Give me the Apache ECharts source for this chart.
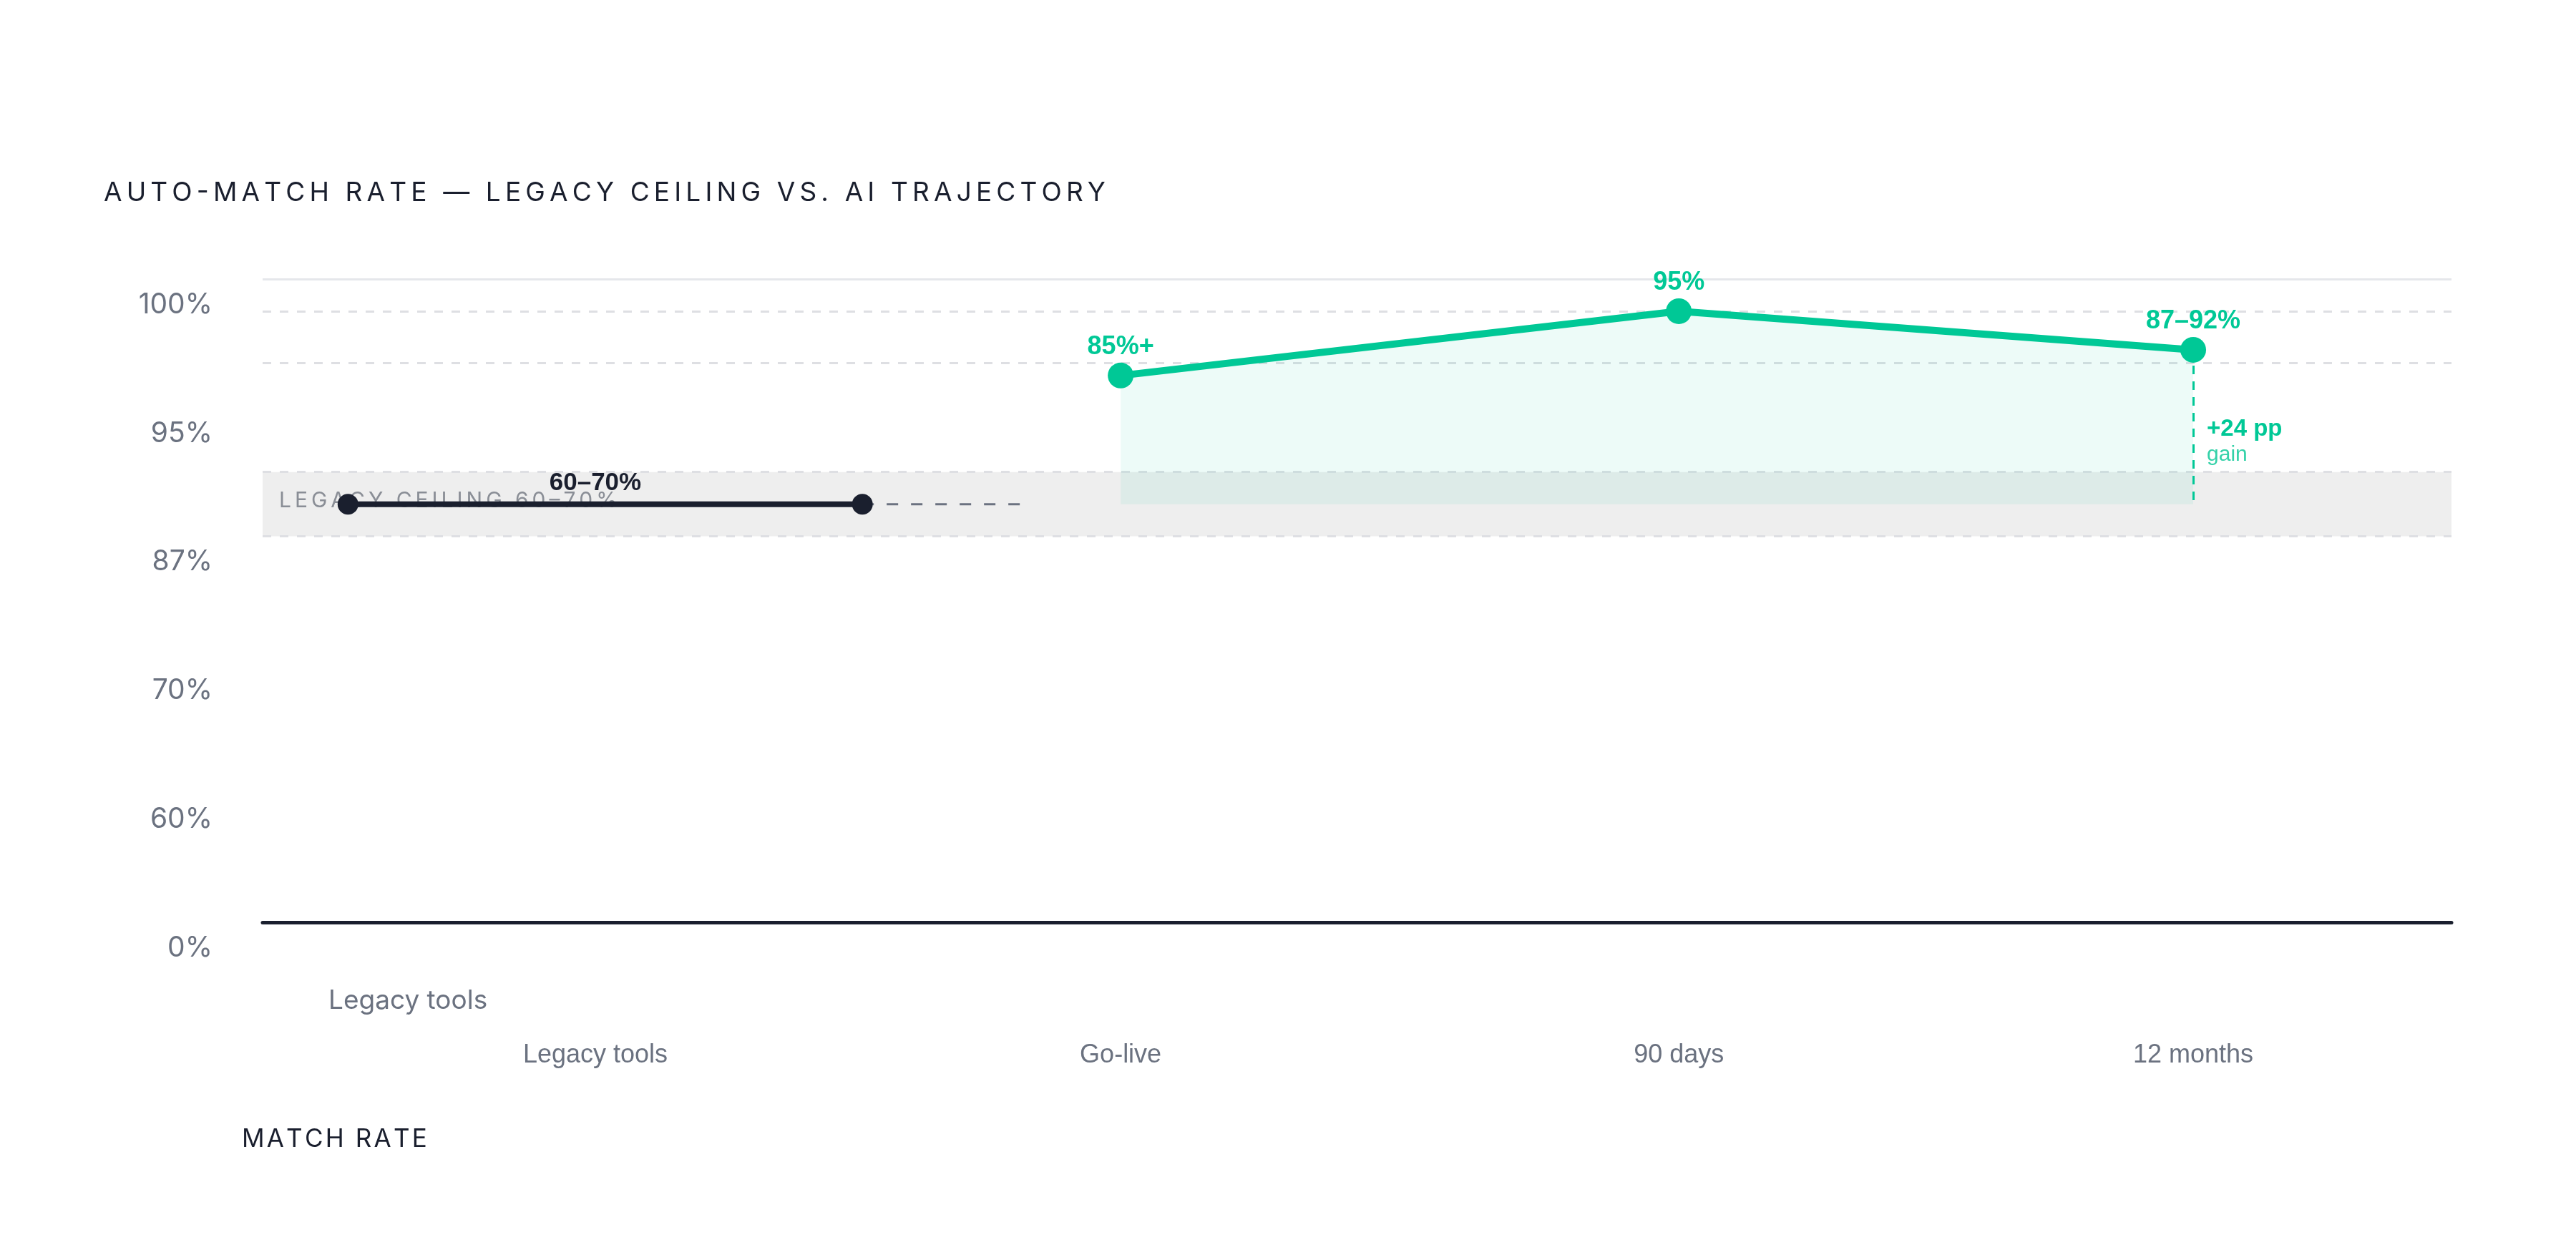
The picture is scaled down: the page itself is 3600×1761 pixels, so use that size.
<!DOCTYPE html>
<html>
<head>
<meta charset="utf-8">
<script src="https://cdn.jsdelivr.net/npm/echarts@6/dist/echarts.min.js"></script>
<style>
  html, body { margin: 0; padding: 0; background: #ffffff; }
  #chart { width: 3600px; height: 1761px; }
</style>
</head>
<body>
<div id="chart"></div>
<script>
// auto-match rate chart
var chart = echarts.init(document.getElementById('chart'));

// data
var xCats = ['Legacy tools', 'Go-live', '90 days', '12 months'];
var xCatPos = [15.2, 39.2, 64.7, 88.2];
var yTickLabels = ['0%', '60%', '70%', '87%', '95%', '100%'];
var refLines = [60, 70, 87, 95];
var ceiling = [60, 70];

var legacyX = [3.9, 27.4];
var legacyVal = [65, 65];
var legacyTrailX = [27.4, 34.75];
var legacyLabel = '60–70%';

var aiX = [39.2, 64.7, 88.2];
var aiVal = [85, 95, 89];
var aiLabels = ['85%+', '95%', '87–92%'];
var gainText = ['+24 pp', 'gain'];

var GREEN = '#00c896';
var DARK = '#1a1f2e';
var GREY = '#6b7280';

// no letter-spacing in canvas text, so pad with narrow spaces
function spaced(s, gap) {
  return s.split('').join(gap || '\u2006');
}

function pairs(xs, ys) {
  return xs.map(function (x, i) { return [x, ys[i]]; });
}

var option = {
  backgroundColor: '#ffffff',
  animation: false,
  grid: { left: 367, right: 174, top: 390, bottom: 472 },
  xAxis: {
    type: 'value',
    min: 0,
    max: 100,
    splitLine: { show: false },
    axisTick: { show: false },
    axisLine: { show: true, lineStyle: { color: DARK, width: 5 } },
    axisLabel: {
      customValues: xCatPos,
      margin: 168,
      color: GREY,
      fontFamily: 'Liberation Sans',
      fontSize: 36,
      formatter: function (v) {
        var i = xCatPos.indexOf(v);
        return i >= 0 ? xCats[i] : '';
      }
    }
  },
  yAxis: {
    type: 'value',
    min: 0,
    max: 100,
    interval: 20,
    splitLine: { show: false },
    axisLine: { show: false },
    axisTick: { show: false },
    axisLabel: {
      margin: 70,
      color: GREY,
      fontFamily: 'Inter',
      fontSize: 39,
      verticalAlign: 'top',
      lineHeight: 72,
      formatter: function (v) {
        return yTickLabels[Math.round(v / 20)];
      }
    }
  },
  graphic: [
    {
      type: 'text', left: 145, top: 251,
      style: {
        text: spaced('AUTO-MATCH RATE — LEGACY CEILING VS. AI TRAJECTORY'),
        fill: DARK, font: '400 37px Inter'
      }
    },
    {
      type: 'text', left: 459, top: 1380,
      style: { text: 'Legacy tools', fill: GREY, font: '37px Inter' }
    },
    {
      type: 'text', left: 338, top: 1575,
      style: { text: spaced('MATCH RATE', '\u200A'), fill: DARK, font: '400 35px Inter' }
    }
  ],
  series: [
    {
      // reference lines and legacy band
      name: 'base',
      type: 'line',
      data: [],
      z: 1,
      markArea: {
        silent: true,
        itemStyle: { color: '#eeeeee' },
        label: {
          show: true,
          position: 'insideLeft',
          distance: 23,
          offset: [0, -5],
          color: '#8a8e96',
          fontFamily: 'Inter',
          fontSize: 30,
          formatter: spaced('LEGACY CEILING 60–70%')
        },
        data: [[{ yAxis: ceiling[0] }, { yAxis: ceiling[1] }]]
      },
      markLine: {
        silent: true,
        symbol: 'none',
        label: { show: false },
        lineStyle: { color: '#dedfe3', width: 3, type: [12, 12] },
        data: refLines.map(function (v) { return { yAxis: v }; }).concat([
          { yAxis: 100, lineStyle: { color: '#e5e7eb', width: 3, type: 'solid' } }
        ])
      }
    },
    {
      name: 'legacy trail',
      type: 'line',
      z: 3,
      data: pairs(legacyTrailX, legacyVal),
      symbol: 'none',
      lineStyle: { color: GREY, width: 3, type: [16, 18] }
    },
    {
      name: 'Legacy',
      type: 'line',
      z: 4,
      data: pairs(legacyX, legacyVal),
      symbol: 'circle',
      symbolSize: 29,
      itemStyle: { color: DARK },
      lineStyle: { color: DARK, width: 8 },
      markPoint: {
        symbol: 'circle',
        symbolSize: 0,
        data: [{ coord: [xCatPos[0], legacyVal[0]] }],
        label: {
          show: true,
          position: 'inside',
          offset: [0, -29],
          formatter: legacyLabel,
          color: DARK,
          fontFamily: 'Liberation Sans',
          fontWeight: 'bold',
          fontSize: 35
        }
      }
    },
    {
      name: 'AI',
      type: 'line',
      z: 5,
      data: pairs(aiX, aiVal),
      symbol: 'circle',
      symbolSize: 36,
      itemStyle: { color: GREEN },
      lineStyle: { color: GREEN, width: 10 },
      areaStyle: { color: 'rgba(0,200,150,0.1)', origin: legacyVal[0] },
      label: {
        show: true,
        position: 'top',
        distance: 4,
        color: GREEN,
        fontFamily: 'Liberation Sans',
        fontWeight: 'bold',
        fontSize: 36,
        formatter: function (p) { return aiLabels[p.dataIndex]; }
      },
      markLine: {
        silent: true,
        symbol: 'none',
        label: { show: false },
        lineStyle: { color: GREEN, width: 3, type: [12, 10] },
        data: [[{ coord: [aiX[2], aiVal[2]] }, { coord: [aiX[2], legacyVal[0]] }]]
      },
      markPoint: {
        symbol: 'circle',
        symbolSize: 0,
        data: [{ coord: [aiX[2], 74.7] }],
        label: {
          show: true,
          position: 'right',
          distance: 19,
          formatter: '{a|' + gainText[0] + '}\n{b|' + gainText[1] + '}',
          rich: {
            a: { color: GREEN, fontFamily: 'Liberation Sans', fontWeight: 'bold', fontSize: 33, lineHeight: 36 },
            b: { color: '#33d1a8', fontFamily: 'Liberation Sans', fontSize: 30, lineHeight: 36 }
          }
        }
      }
    }
  ]
};

chart.setOption(option);
</script>
</body>
</html>
